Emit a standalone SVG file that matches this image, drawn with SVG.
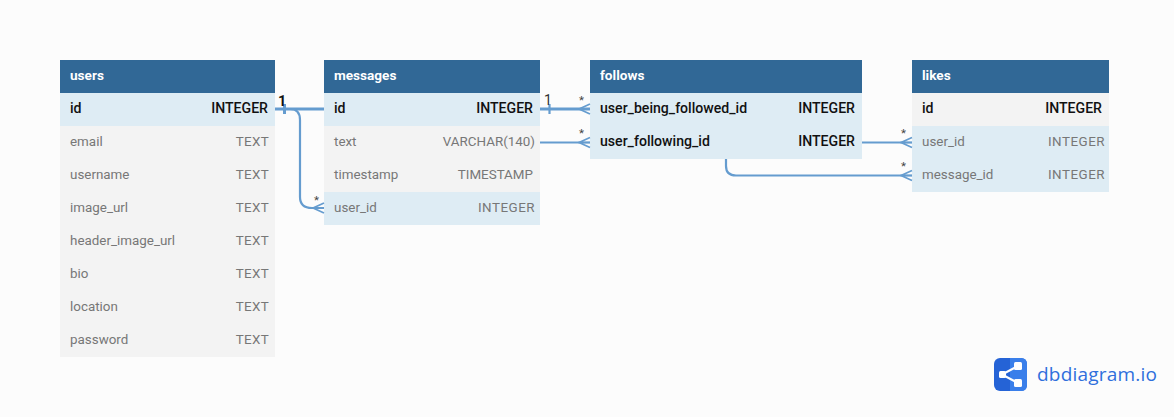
<svg xmlns="http://www.w3.org/2000/svg" width="1174" height="417" viewBox="0 0 1174 417">
<defs>
<style>
text{font-family:Roboto,"Liberation Sans",sans-serif;font-size:13.4px}
.hd{fill:#316896}
.t{fill:#fff;font-weight:700;font-size:13.6px}
.a{fill:#f3f3f3}
.b{fill:#deecf4}
.n{fill:#777}
.g{letter-spacing:.5px}
.x{letter-spacing:.3px}
.k{fill:#111;font-weight:500;font-size:14.1px}
.r{text-anchor:end}
.c{fill:none;stroke:#659ccf;stroke-width:2.2}
.w{fill:none;stroke:#659ccf;stroke-width:3}
.m{fill:none;stroke:#659ccf;stroke-width:1.7}
.l{fill:#444;font-size:11.500px}
.o{fill:#111;font-size:14.500px;font-weight:700}
.p{fill:#333;font-size:14px}
</style>
<g id="crow"><path class="m" d="M0 0L-12 0M-11 0L0 -5M-11 0L0 5"/></g>
</defs>
<rect width="1174" height="417" fill="#fcfcfc"/>
<g id="users">
<rect class="hd" x="60" y="60" width="215" height="33"/><text class="t" x="70" y="80">users</text>
<rect class="b" x="60" y="93" width="215" height="33"/><text class="k" x="70" y="113">id</text><text class="k r" x="268" y="113">INTEGER</text>
<rect class="a" x="60" y="126" width="215" height="231"/>
<text class="n" x="70" y="146">email</text><text class="n r x" x="269" y="146">TEXT</text>
<text class="n" x="70" y="179">username</text><text class="n r x" x="269" y="179">TEXT</text>
<text class="n" x="70" y="212">image_url</text><text class="n r x" x="269" y="212">TEXT</text>
<text class="n" x="70" y="245">header_image_url</text><text class="n r x" x="269" y="245">TEXT</text>
<text class="n" x="70" y="278">bio</text><text class="n r x" x="269" y="278">TEXT</text>
<text class="n" x="70" y="311">location</text><text class="n r x" x="269" y="311">TEXT</text>
<text class="n" x="70" y="344">password</text><text class="n r x" x="269" y="344">TEXT</text>
</g>
<g id="messages">
<rect class="hd" x="324" y="60" width="216" height="33"/><text class="t" x="334" y="80">messages</text>
<rect class="b" x="324" y="93" width="216" height="33"/><text class="k" x="334" y="113">id</text><text class="k r" x="533" y="113">INTEGER</text>
<rect class="a" x="324" y="126" width="216" height="66"/>
<text class="n" x="334" y="146">text</text><text class="n r" x="535" y="146">VARCHAR(140)</text>
<text class="n" x="334" y="179">timestamp</text><text class="n r" x="533" y="179">TIMESTAMP</text>
<rect class="b" x="324" y="192" width="216" height="33"/><text class="n" x="334" y="212">user_id</text><text class="n r g" x="535" y="212">INTEGER</text>
</g>
<g id="follows">
<rect class="hd" x="590" y="60" width="272" height="33"/><text class="t" x="600" y="80">follows</text>
<rect class="b" x="590" y="93" width="272" height="66"/>
<text class="k" x="600" y="113">user_being_followed_id</text><text class="k r" x="855" y="113">INTEGER</text>
<text class="k" x="600" y="146">user_following_id</text><text class="k r" x="855" y="146">INTEGER</text>
</g>
<g id="likes">
<rect class="hd" x="912" y="60" width="197" height="33"/><text class="t" x="922" y="80">likes</text>
<rect class="a" x="912" y="93" width="197" height="33"/><text class="k" x="922" y="113">id</text><text class="k r" x="1102" y="113">INTEGER</text>
<rect class="b" x="912" y="126" width="197" height="66"/>
<text class="n" x="922" y="146">user_id</text><text class="n r g" x="1105" y="146">INTEGER</text>
<text class="n" x="922" y="179">message_id</text><text class="n r g" x="1105" y="179">INTEGER</text>
</g>
<g id="connectors">
<path class="w" d="M275 109H324"/>
<path class="c" d="M290 109Q300 109 300 120V197Q300 208 312 208H324"/>
<path class="w" d="M284.500 104V114"/>
<use href="#crow" x="324" y="208"/>
<text class="l" x="314" y="204">*</text>
<text class="o" x="278" y="106">1</text>
<path class="w" d="M540 109H590"/>
<path class="c" d="M540 142.500H590"/>
<path class="c" d="M549.500 104V114"/>
<use href="#crow" x="590" y="109"/><use href="#crow" x="590" y="142.500"/>
<text class="p" x="544" y="105">1</text>
<text class="l" x="579" y="104">*</text><text class="l" x="579" y="137">*</text>
<path class="c" d="M862 142.500H912M726 159V166Q726 175.500 736 175.500H912"/>
<use href="#crow" x="912" y="142.500"/><use href="#crow" x="912" y="175.500"/>
<text class="l" x="901" y="137">*</text><text class="l" x="901" y="170">*</text>
</g>
<g id="logo">
<rect x="994" y="358" width="33" height="33" rx="6" fill="#2563d6"/>
<path d="M1010 358H1021Q1027 358 1027 364V385Q1027 391 1021 391H1010Z" fill="#3a7fea"/>
<path d="M1002 374.500L1018 366M1002 374.500L1018 383" stroke="#fff" stroke-width="2" fill="none"/>
<rect x="999" y="371" width="7" height="7" rx="1.500" fill="#fff"/>
<rect x="1014" y="362" width="8" height="8" rx="1.500" fill="#fff"/>
<rect x="1014" y="379" width="8" height="8" rx="1.500" fill="#fff"/>
<text x="1037" y="381" style="font-family:'Open Sans',sans-serif;font-size:19px;letter-spacing:.2px" fill="#2f6fdc">dbdiagram.io</text>
</g>
</svg>
